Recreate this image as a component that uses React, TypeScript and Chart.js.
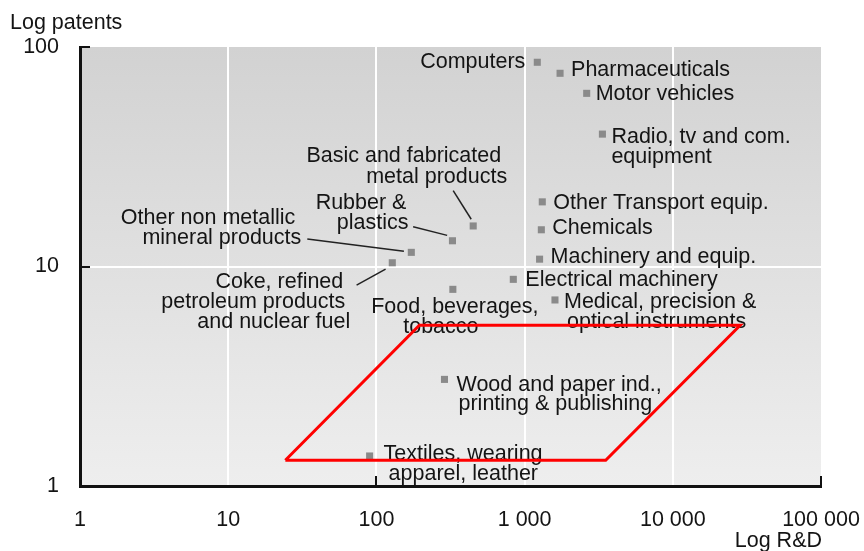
import React, { useEffect, useRef } from 'react';
import { Chart, registerables } from 'chart.js';
Chart.register(...registerables);

// ---- data ----
const sectors = [
  'Computers', 'Pharmaceuticals', 'Motor vehicles', 'Radio, tv and com. equipment',
  'Other Transport equip.', 'Chemicals', 'Machinery and equip.', 'Electrical machinery',
  'Medical, precision & optical instruments', 'Food, beverages, tobacco',
  'Wood and paper ind., printing & publishing', 'Textiles, wearing apparel, leather',
  'Basic and fabricated metal products', 'Rubber & plastics',
  'Other non metallic mineral products', 'Coke, refined petroleum products and nuclear fuel',
];
const rdValues = [1218, 1735, 2624, 3350, 1316, 1297, 1262, 839, 1603, 328, 288, 90, 450, 326, 172, 128];
const patentValues = [85.2, 75.9, 61.5, 40.1, 19.7, 14.7, 10.8, 8.74, 7.04, 7.87, 3.06, 1.37, 15.3, 13.1, 11.6, 10.4];
const labelLines = [
  ['Computers'], ['Pharmaceuticals'], ['Motor vehicles'], ['Radio, tv and com.', 'equipment'],
  ['Other Transport equip.'], ['Chemicals'], ['Machinery and equip.'], ['Electrical machinery'],
  ['Medical, precision &', 'optical instruments'], ['Food, beverages,', 'tobacco'],
  ['Wood and paper ind.,', 'printing & publishing'], ['Textiles, wearing', 'apparel, leather'],
  ['Basic and fabricated', 'metal products'], ['Rubber &', 'plastics'],
  ['Other non metallic', 'mineral products'], ['Coke, refined', 'petroleum products', 'and nuclear fuel'],
];
const xTicks = [1, 10, 100, 1000, 10000, 100000];
const yTicks = [1, 10, 100];
const boxRD = [24.3, 3525, 28500, 195, 24.3];
const boxPatents = [1.31, 1.31, 5.4, 5.4, 1.31];
const xTitle = 'Log R&D';
const yTitle = 'Log patents';

// ---- label layout (pixel offsets from each point) ----
type L = [number, number, CanvasTextAlign];
const labelLayout: L[][] = [
  [[-12, -2, 'right']],
  [[11, -5, 'left']],
  [[9, -1, 'left']],
  [[9, 1.5, 'left'], [9, 21, 'left']],
  [[11, 0, 'left']],
  [[11, -3, 'left']],
  [[11, -4, 'left']],
  [[12, -1, 'left']],
  [[9, 1, 'left'], [12, 20.7, 'left']],
  [[2, 16, 'center'], [-12, 36, 'center']],
  [[12, 4, 'left'], [14, 23.4, 'left']],
  [[14, -3, 'left'], [19, 17, 'left']],
  [[28, -71, 'right'], [34, -50.3, 'right']],
  [[-46, -38.7, 'right'], [-44, -18.7, 'right']],
  [[-116, -36, 'right'], [-110, -16, 'right']],
  [[-49, 18, 'right'], [-47, 38.3, 'right'], [-42, 58, 'right']],
];
const leaders: Record<number, [number, number, number, number]> = {
  12: [-20, -35.3, -2, -6.7],
  13: [-39.3, -14, -5.3, -5.4],
  14: [-104, -13.4, -7.4, -1],
  15: [-35.7, 22.3, -6.7, 6.3],
};

const fmt = (v: number) => (v < 1000 ? String(v) : v.toLocaleString('en-US').replace(/,/g, ' '));

export default function App() {
  const ref = useRef<HTMLCanvasElement>(null);
  useEffect(() => {
    const FAMILY = '"Liberation Sans", Arial, sans-serif';
    const SIZE = 21.5;
    const TEXT = '#141414';
    const fontStr = `${SIZE}px ${FAMILY}`;
    const TEXT_DY = 1.5;

    const bgPlugin = {
      id: 'bg',
      beforeDraw(chart: any) {
        const { ctx, chartArea: a } = chart;
        const g = ctx.createLinearGradient(0, a.top, 0, a.bottom);
        g.addColorStop(0, '#d2d2d2');
        g.addColorStop(1, '#eeeeee');
        ctx.save();
        ctx.fillStyle = g;
        ctx.fillRect(a.left, a.top, a.right - a.left, a.bottom - a.top);
        ctx.restore();
      },
    };

    const labelPlugin = {
      id: 'labels',
      beforeDatasetsDraw(chart: any) {
        const { ctx } = chart;
        const xs = chart.scales.x, ys = chart.scales.y;
        ctx.save();
        ctx.font = fontStr;
        ctx.fillStyle = TEXT;
        ctx.textBaseline = 'middle';
        rdValues.forEach((rd, i) => {
          const px = xs.getPixelForValue(rd);
          const py = ys.getPixelForValue(patentValues[i]);
          labelLines[i].forEach((line, j) => {
            const [dx, dy, align] = labelLayout[i][j];
            ctx.textAlign = align;
            ctx.fillText(line, px + dx, py + dy + TEXT_DY);
          });
          const ld = leaders[i];
          if (ld) {
            ctx.strokeStyle = '#222';
            ctx.lineWidth = 1.5;
            ctx.beginPath();
            ctx.moveTo(px + ld[0], py + ld[1]);
            ctx.lineTo(px + ld[2], py + ld[3]);
            ctx.stroke();
          }
        });
        ctx.restore();
      },
      afterDraw(chart: any) {
        const { ctx, chartArea: a } = chart;
        const xs = chart.scales.x, ys = chart.scales.y;
        ctx.save();
        ctx.font = fontStr;
        ctx.fillStyle = TEXT;
        ctx.textBaseline = 'middle';
        ctx.textAlign = 'left';
        ctx.fillText(yTitle, 10, 23);
        ctx.textAlign = 'right';
        ctx.fillText(xTitle, a.right + 1, 541);
        ctx.strokeStyle = '#111';
        ctx.lineWidth = 2;
        ctx.beginPath();
        [100, 10].forEach((v) => {
          const y = Math.round(ys.getPixelForValue(v));
          ctx.moveTo(a.left, y); ctx.lineTo(a.left + 10, y);
        });
        [100, 100000].forEach((v) => {
          const x = Math.round(xs.getPixelForValue(v));
          ctx.moveTo(x, a.bottom); ctx.lineTo(x, a.bottom - 10);
        });
        ctx.stroke();
        ctx.restore();
      },
    };

    const chart = new Chart(ref.current!, {
      type: 'scatter',
      data: {
        datasets: [
          {
            label: 'box',
            data: boxRD.map((x, i) => ({ x, y: boxPatents[i] })),
            showLine: true,
            borderColor: '#ff0000',
            borderWidth: 3,
            pointRadius: 0,
            fill: false,
            tension: 0,
            borderJoinStyle: 'miter',
          } as any,
          {
            label: 'sectors',
            data: rdValues.map((x, i) => ({ x, y: patentValues[i] })),
            pointStyle: 'rect',
            pointRadius: 5,
            backgroundColor: '#8a8a8a',
            borderWidth: 0,
          } as any,
        ],
      },
      options: {
        animation: false,
        responsive: false,
        events: [],
        layout: { padding: { left: 0, top: 47, right: 43, bottom: 0 } },
        plugins: { legend: { display: false }, tooltip: { enabled: false } },
        scales: {
          x: {
            type: 'logarithmic',
            min: 1,
            max: 100000,
            afterBuildTicks: (s: any) => { s.ticks = xTicks.map((v) => ({ value: v })); },
            afterFit: (s: any) => { s.height = 65; s.paddingLeft = 0; s.paddingRight = 0; },
            ticks: {
              callback: (v: any) => fmt(Number(v)),
              font: { family: FAMILY, size: SIZE },
              color: TEXT,
              padding: 21,
              maxRotation: 0,
              autoSkip: false,
            },
            grid: {
              color: (c: any) => (c.tick && (c.tick.value === 1 || c.tick.value === 100000) ? 'rgba(0,0,0,0)' : '#ffffff'),
              lineWidth: 2,
              drawTicks: false,
            },
            border: { color: '#111', width: 3 },
          },
          y: {
            type: 'logarithmic',
            min: 1,
            max: 100,
            afterBuildTicks: (s: any) => { s.ticks = yTicks.map((v) => ({ value: v })); },
            afterFit: (s: any) => { s.width = 80; s.paddingTop = 0; s.paddingBottom = 0; },
            ticks: {
              callback: (v: any) => fmt(Number(v)),
              font: { family: FAMILY, size: SIZE },
              color: TEXT,
              padding: 21,
              autoSkip: false,
            },
            grid: {
              color: (c: any) => (c.tick && (c.tick.value === 1 || c.tick.value === 100) ? 'rgba(0,0,0,0)' : '#ffffff'),
              lineWidth: 2,
              drawTicks: false,
            },
            border: { color: '#111', width: 3 },
          },
        },
      },
      plugins: [bgPlugin, labelPlugin],
    });
    return () => chart.destroy();
  }, []);

  return (
    <div style={{ position: 'fixed', left: 0, top: 0, width: 864, height: 551, background: '#fff' }}>
      <canvas ref={ref} width={864} height={551} aria-label={sectors.join(', ')} />
    </div>
  );
}
